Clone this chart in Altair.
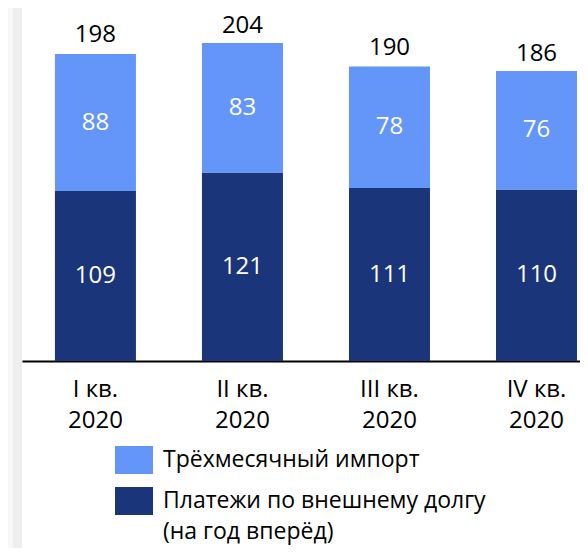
import altair as alt
import pandas as pd

quarters = ["I кв. 2020", "II кв. 2020", "III кв. 2020", "IV кв. 2020"]
debt_payments = [109, 121, 111, 110]
import_3m = [88, 83, 78, 76]
totals = [198, 204, 190, 186]

s_import = "Трёхмесячный импорт"
s_debt = "Платежи по внешнему долгу\n(на год вперёд)"
series = [s_import, s_debt]
colors = ["#6496fa", "#1b357a"]

rows = []
for q, d, i in zip(quarters, debt_payments, import_3m):
    rows.append({"q": q, "series": s_debt, "value": d, "ord": 0})
    rows.append({"q": q, "series": s_import, "value": i, "ord": 1})
df = pd.DataFrame(rows)
df_tot = pd.DataFrame({"q": quarters, "total": totals})

FONT = "Open Sans"

x_enc = alt.X(
    "q:N",
    sort=quarters,
    scale=alt.Scale(paddingInner=0.449, paddingOuter=0.1222, align=0.9167),
    axis=alt.Axis(
        title=None,
        labelAngle=0,
        ticks=False,
        domainColor="black",
        domainWidth=2,
        labelColor="black",
        labelFont=FONT,
        labelFontSize=24,
        labelLineHeight=31,
        labelPadding=16,
        labelExpr="[slice(datum.label, 0, indexof(datum.label, ' 20')), slice(datum.label, indexof(datum.label, ' 20') + 1)]",
    ),
)
y_scale = alt.Scale(domain=[0, 226.5], nice=False)

# decorative grey margin strip on the left (page background in the original)
strip1 = alt.Chart(df_tot).mark_rect(color="#f7f7f7").encode(
    x=alt.value(-14), x2=alt.value(-9), y=alt.value(-8), y2=alt.value(540)
)
strip2 = alt.Chart(df_tot).mark_rect(color="#eeeeee").encode(
    x=alt.value(-9), x2=alt.value(0), y=alt.value(-8), y2=alt.value(540)
)

bars = alt.Chart(df).mark_bar().encode(
    x=x_enc,
    y=alt.Y("sum(value):Q", stack="zero", scale=y_scale, axis=None),
    color=alt.Color(
        "series:N",
        scale=alt.Scale(domain=series, range=colors),
        legend=alt.Legend(
            title=None,
            orient="none",
            legendX=93,
            legendY=433,
            padding=0,
            symbolType="M-1,-0.737H1V0.737H-1Z",
            symbolSize=1444,
            symbolStrokeWidth=0,
            symbolOpacity=1,
            labelFont=FONT,
            labelFontSize=23,
            labelColor="black",
            labelLimit=0,
            labelOffset=10,
            rowPadding=7,
            labelExpr="split(datum.label, '\\n')",
        ),
    ),
    order=alt.Order("ord:Q", sort="ascending"),
)

inner = alt.Chart(df).mark_text(
    color="white", font=FONT, fontSize=24, baseline="middle"
).encode(
    x=alt.X("q:N", sort=quarters),
    y=alt.Y("value:Q", stack="zero", bandPosition=0.5, scale=y_scale),
    text="value:Q",
    detail="series:N",
    order=alt.Order("ord:Q", sort="ascending"),
)

top = alt.Chart(df_tot).mark_text(
    color="black", font=FONT, fontSize=24, baseline="alphabetic", dy=-10
).encode(
    x=alt.X("q:N", sort=quarters),
    y=alt.Y("total:Q", scale=y_scale),
    text="total:Q",
)

chart = alt.layer(strip1, strip2, bars, inner, top).properties(
    width=558,
    height=353,
    autosize=alt.AutoSizeParams(type="none"),
    padding={"left": 14, "top": 0, "right": 0, "bottom": 187},
).configure(
    style={"guide-label": {"lineHeight": 31}}
).configure_view(stroke=None)

chart.save("out.html", embed_options={"renderer": "svg", "actions": False})
